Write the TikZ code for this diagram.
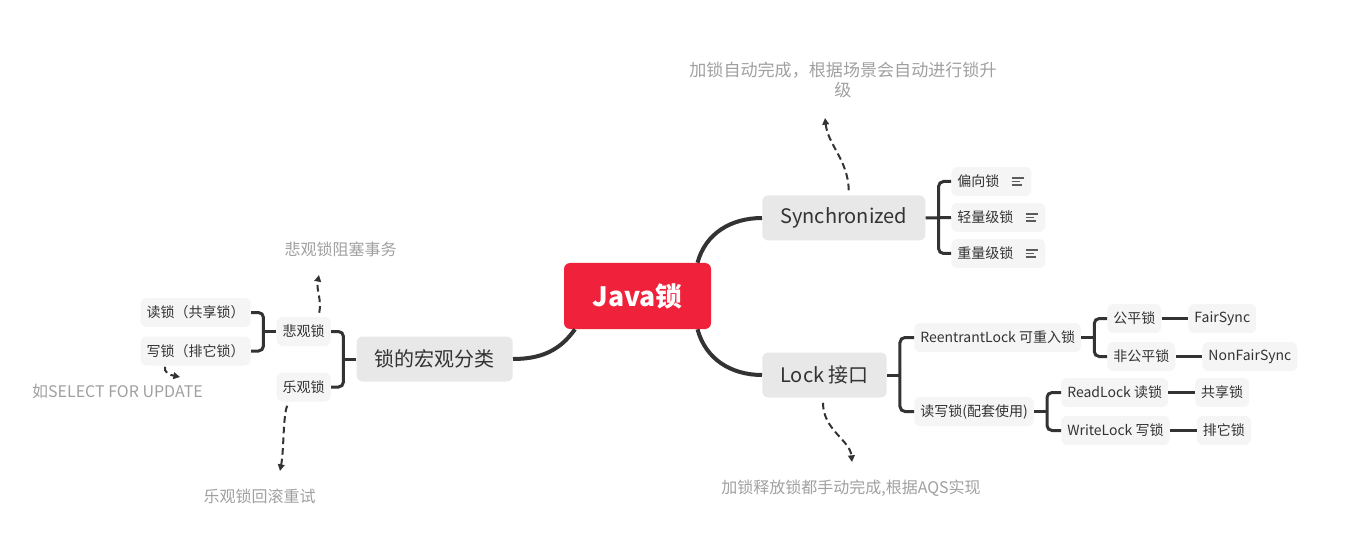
\documentclass[tikz,border=0pt]{standalone}
\usepackage{fontspec}
\setmainfont{Noto Sans CJK SC}
\usetikzlibrary{arrows.meta}
\usetikzlibrary{calc}
\usetikzlibrary{positioning}

\definecolor{javared}{HTML}{F0213A}
\definecolor{topicgray}{HTML}{E8E8E8}
\definecolor{subgray}{HTML}{F5F5F5}
\definecolor{ink}{HTML}{333333}
\definecolor{notegray}{HTML}{A0A0A0}

\begin{document}
\begin{tikzpicture}[x=0.75pt, y=-0.75pt, node distance=20pt,
        root/.style={fill=javared, text=white, rounded corners=4.5pt, minimum width=110.25pt, minimum height=49.5pt, font=\fontsize{20}{24}\selectfont\bfseries},
        topic/.style={fill=topicgray, text=ink, rounded corners=4.5pt, inner xsep=13.5pt, minimum height=33.75pt, font=\fontsize{15}{18}\selectfont},
        sub/.style={fill=subgray, text=ink, rounded corners=4.5pt, inner xsep=4.5pt, minimum height=21.75pt, font=\fontsize{10.5}{12}\selectfont},
        note/.style={text=notegray, align=center, font=\fontsize{12}{15}\selectfont},
        trunk/.style={draw=ink, line width=3pt},
        twig/.style={draw=ink, line width=2.25pt, rounded corners=3.75pt},
        hint/.style={draw=ink, line width=1.5pt, dash pattern=on 5pt off 3pt, -{Triangle[length=5pt,width=5pt]}},
        memoline/.style={draw=ink!80, line width=1.1pt}]
        \useasboundingbox (0,0) rectangle (1352,552);

        \node [root] (java) at (637.5,296) {Java锁};
        \node [topic,anchor=west] (sync) at (762,218) {Synchronized};
        \node [topic,anchor=west] (lock) at (762,375) {Lock 接口};
        \node [topic,anchor=east] (kind) at (513,359) {锁的宏观分类};

        \node [sub,anchor=west] (bias) at (951,181.5) {偏向锁\hspace*{19.5pt}};
        \node [sub,anchor=west] (light) at (951,217.5) {轻量级锁\hspace*{19.5pt}};
        \node [sub,anchor=west] (heavy) at (951,253.5) {重量级锁\hspace*{19.5pt}};

        \node [sub,anchor=west] (reen) at (914,337.5) {ReentrantLock 可重入锁};
        \node [sub,anchor=west] (rw) at (914,411.5) {读写锁(配套使用)};
        \node [sub,anchor=west] (fair) at (1107,318.5) {公平锁};
        \node [sub,anchor=west] (unfair) at (1107,356.5) {非公平锁};
        \node [sub] (fs) [right=of fair] {FairSync};
        \node [sub] (nfs) [right=of unfair] {NonFairSync};
        \node [sub,anchor=west] (rl) at (1061,392.5) {ReadLock 读锁};
        \node [sub,anchor=west] (wl) at (1061,430.5) {WriteLock 写锁};
        \node [sub] (share) [right=of rl] {共享锁};
        \node [sub] (excl) [right=of wl] {排它锁};

        \node [sub,anchor=east] (pess) at (331,331.5) {悲观锁};
        \node [sub,anchor=east] (opt) at (331,387) {乐观锁};
        \node [sub,anchor=east] (rd) at (251,312.5) {读锁（共享锁）};
        \node [sub,anchor=east] (wr) at (251,351) {写锁（排它锁）};

        \node [note,font=\fontsize{12.8}{15}\selectfont] (n1) at (843,80) {加锁自动完成，根据场景会自动进行锁升\\级};
        \node [note] (n2) at (851,488) {加锁释放锁都手动完成,根据AQS实现};
        \node [note] (n3) at (340.5,249) {悲观锁阻塞事务};
        \node [note] (n4) at (259.5,496) {乐观锁回滚重试};
        \node [note] (n5) at (117.5,391) {如SELECT FOR UPDATE};

        \foreach \n in {bias,light,heavy}
            \draw [memoline] ($(\n.east)+(-20,-3.5)$) -- ++(12.5,0)
                             ($(\n.east)+(-20,0)$) -- ++(8.5,0)
                             ($(\n.east)+(-20,3.5)$) -- ++(10.5,0);

        \path [trunk]
            (java.29) edge [out=75,in=180] (sync.west)
            (java.-29) edge [out=-75,in=180] (lock.west)
            (java.208) edge [out=235,in=0] (kind.east);

        \draw [twig] (sync.east) -- (light.west);
        \draw [twig] (bias.west) -| ($(sync.east)+(13,0)$) |- (heavy.west);
        \draw [twig] (lock.east) -- ++(13,0) coordinate (lb);
        \draw [twig] (reen.west) -| (lb) |- (rw.west);
        \draw [twig] (reen.east) -- ++(13,0) coordinate (rb);
        \draw [twig] (fair.west) -| (rb) |- (unfair.west);
        \draw [twig] (rw.east) -- ++(13,0) coordinate (wb);
        \draw [twig] (rl.west) -| (wb) |- (wl.west);
        \draw [twig] (kind.west) -- ++(-13,0) coordinate (kb);
        \draw [twig] (pess.east) -| (kb) |- (opt.east);
        \draw [twig] (pess.west) -- ++(-13,0) coordinate (pb);
        \draw [twig] (rd.east) -| (pb) |- (wr.east);
        \path [twig]
            (fair) edge (fs)
            (unfair) edge (nfs)
            (rl) edge (share)
            (wl) edge (excl);

        \coordinate (t1) at (825,118);
        \coordinate (t2) at (852,462);
        \coordinate (t3) at (319,275);
        \coordinate (t4) at (280,471);
        \coordinate (t5) at (180,377);
        \draw [hint] ($(sync.north)+(5,-5)$) .. controls (848,160) and (828,145) .. (t1);
        \draw [hint] ($(lock.south)+(-1.5,5)$) .. controls (823,430) and (850,440) .. (t2);
        \draw [hint] ($(pess.north)+(15.5,-4)$) .. controls (322,300) and (316,290) .. (t3);
        \draw [hint] ($(opt.south)+(-16.5,4)$) .. controls (283,415) and (284,450) .. (t4);
        \draw [hint] ($(wr.south)+(-30.5,1)$) .. controls (163,372) and (170,375) .. (t5);
    \end{tikzpicture}
\end{document}
